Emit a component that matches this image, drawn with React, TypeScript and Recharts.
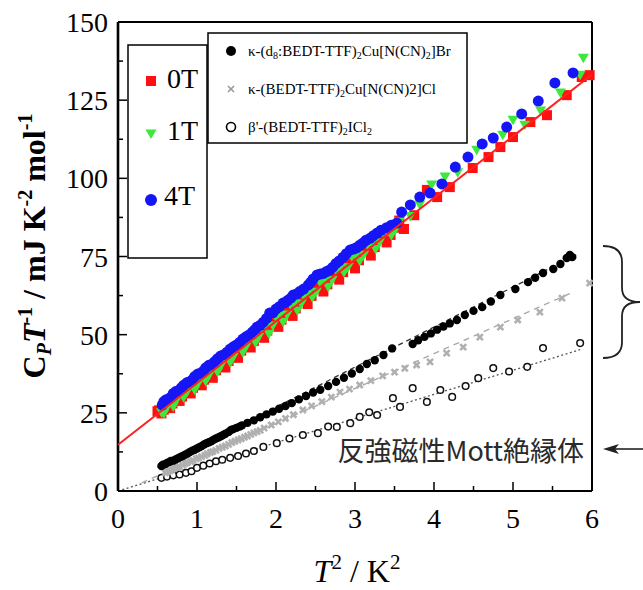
import React from 'react';
import { ComposedChart, Scatter, Line, XAxis, YAxis } from 'recharts';

// C_P T^-1 vs T^2, fields 0T / 1T / 4T for the metal, plus three reference salts
const field0T: [number, number][] = [
  [0.5, 25.5], [0.55, 24.8], [0.6, 27.5], [0.66, 26.5], [0.72, 30.2], [0.78, 28.8],
  [0.85, 32.5], [0.92, 31.2], [0.99, 35.6], [1.06, 33.8], [1.13, 37.8], [1.2, 36.2],
  [1.28, 41.2], [1.36, 39.5], [1.44, 44.8], [1.52, 42.6], [1.6, 47.8], [1.68, 45.9],
  [1.76, 50.6], [1.85, 49.0], [1.94, 54.6], [2.03, 52.5], [2.12, 57.8], [2.21, 56.0],
  [2.3, 61.6], [2.4, 59.8], [2.5, 65.5], [2.6, 63.8], [2.7, 69.2], [2.8, 67.6],
  [2.9, 72.6], [3.0, 71.2], [3.1, 76.8], [3.2, 75.3], [3.3, 80.6], [3.4, 79.5],
  [3.5, 84.2], [3.62, 83.8], [3.75, 88.2], [3.91, 96.3], [4.04, 94.0], [4.2, 97.2],
  [4.49, 103.3], [4.69, 106.8], [4.84, 110.0], [5.0, 113.2], [5.22, 118.0],
  [5.43, 120.2], [5.68, 126.6], [5.87, 132.4], [5.97, 133.0],
  [0.52, 25.8], [0.58, 26.0], [0.63, 28.4], [0.69, 28.0], [0.75, 30.9], [0.81, 30.2],
  [0.88, 33.4], [0.95, 33.0], [1.02, 36.2], [1.09, 35.6], [1.16, 38.9], [1.24, 38.6],
  [1.32, 42.0], [1.4, 41.6], [1.48, 45.3], [1.56, 44.9], [1.64, 48.4], [1.72, 48.0],
  [1.8, 51.6], [1.89, 51.3], [1.98, 55.2], [2.07, 54.8], [2.16, 58.7], [2.25, 58.4],
  [2.35, 62.5], [2.45, 62.4], [2.55, 66.6], [2.65, 66.1], [2.75, 70.3], [2.85, 70.0],
  [2.95, 74.4], [3.05, 73.8], [3.15, 78.2], [3.25, 78.0], [3.35, 82.2], [3.45, 81.9],
  [3.56, 86.5],
];

const field1T: [number, number][] = [
  [0.58, 24.6], [0.64, 27.9], [0.7, 26.9], [0.76, 30.6], [0.83, 29.8], [0.9, 33.4],
  [0.97, 32.2], [1.04, 36.4], [1.11, 35.0], [1.18, 39.2], [1.26, 37.9], [1.34, 42.3],
  [1.42, 41.0], [1.5, 45.6], [1.58, 44.2], [1.66, 48.6], [1.74, 47.3], [1.82, 51.8],
  [1.91, 50.1], [2.0, 55.4], [2.09, 54.0], [2.18, 59.6], [2.27, 57.6], [2.36, 62.0],
  [2.46, 61.8], [2.56, 66.5], [2.66, 65.2], [2.76, 70.5], [2.86, 69.8], [2.96, 74.8],
  [3.06, 73.5], [3.16, 78.4], [3.26, 77.2], [3.36, 82.3], [3.46, 81.6], [3.56, 86.0],
  [3.7, 87.8], [3.82, 91.5], [3.97, 97.9], [4.14, 100.4], [4.3, 101.8], [4.54, 109.0],
  [4.87, 113.8], [5.0, 118.6], [5.15, 117.0], [5.35, 121.5], [5.6, 127.3],
  [5.85, 133.0], [5.89, 138.4],
  [0.55, 25.0], [0.61, 26.2], [0.67, 28.6], [0.73, 28.5], [0.8, 31.2], [0.87, 31.4],
  [0.94, 34.0], [1.01, 34.1], [1.08, 36.9], [1.15, 36.8], [1.22, 39.6], [1.3, 39.8],
  [1.38, 42.9], [1.46, 42.8], [1.54, 46.0], [1.62, 46.0], [1.7, 49.2], [1.78, 49.1],
  [1.87, 52.6], [1.96, 52.8], [2.05, 56.1], [2.14, 56.3], [2.23, 59.9], [2.32, 59.8],
  [2.41, 63.4], [2.51, 63.6], [2.61, 67.4], [2.71, 67.3], [2.81, 71.3], [2.91, 71.4],
  [3.01, 75.2], [3.11, 75.4], [3.21, 79.3], [3.31, 79.4], [3.41, 83.1], [3.51, 83.4],
];

const field4T: [number, number][] = [
  [0.56, 27.5], [0.61, 29.2], [0.67, 30.0], [0.73, 31.8], [0.8, 33.0], [0.87, 34.6],
  [0.94, 35.5], [1.01, 37.4], [1.08, 38.3], [1.15, 40.2], [1.22, 41.3], [1.3, 43.2],
  [1.38, 44.4], [1.46, 46.1], [1.54, 47.5], [1.62, 49.3], [1.7, 50.8], [1.76, 52.4],
  [1.84, 54.0], [1.92, 56.9], [2.0, 58.2], [2.09, 60.1], [2.15, 61.0], [2.22, 62.7],
  [2.3, 63.8], [2.41, 65.9], [2.47, 67.8], [2.52, 69.1], [2.6, 69.6], [2.68, 70.7],
  [2.76, 72.8], [2.85, 74.8], [2.94, 77.1], [3.02, 77.8], [3.1, 79.3], [3.19, 80.8],
  [3.28, 82.5], [3.4, 84.2], [3.53, 85.7], [3.59, 89.2], [3.7, 91.5], [3.82, 94.0],
  [3.95, 95.3], [4.1, 98.2], [4.27, 103.6], [4.43, 106.8], [4.61, 111.0],
  [4.75, 112.9], [4.92, 116.4], [5.11, 120.6], [5.32, 124.7], [5.53, 130.5],
  [5.76, 133.7],
  [0.58, 28.6], [0.64, 29.4], [0.7, 31.2], [0.76, 32.0], [0.83, 33.8], [0.9, 34.9],
  [0.97, 36.6], [1.04, 37.6], [1.11, 39.4], [1.18, 40.4], [1.26, 42.3], [1.34, 43.6],
  [1.42, 45.4], [1.5, 46.7], [1.58, 48.6], [1.66, 49.9], [1.73, 51.5], [1.8, 53.0],
  [1.88, 55.2], [1.96, 57.0], [2.04, 58.9], [2.12, 60.3], [2.19, 61.8], [2.26, 63.0],
  [2.35, 64.6], [2.44, 66.8], [2.56, 69.4], [2.64, 70.2], [2.72, 71.6], [2.8, 73.6],
  [2.89, 75.9], [2.98, 77.4], [3.06, 78.6], [3.14, 80.2], [3.23, 81.6], [3.33, 83.4],
  [3.46, 85.0],
];

const d8Br: [number, number][] = [
  [0.55, 8.0], [0.6, 8.6], [0.65, 9.3], [0.7, 9.7], [0.76, 10.5], [0.82, 11.2],
  [0.88, 12.0], [0.94, 12.9], [1.0, 13.6], [1.06, 14.4], [1.12, 15.3], [1.18, 15.9],
  [1.24, 16.8], [1.3, 17.5], [1.36, 18.3], [1.43, 19.5], [1.5, 20.2], [1.57, 21.0],
  [1.64, 21.8], [1.72, 22.6], [1.8, 23.6], [1.88, 24.5], [1.96, 25.4], [2.04, 26.3],
  [2.12, 27.2], [2.2, 28.1], [2.29, 29.3], [2.38, 30.4], [2.47, 31.5], [2.56, 32.4],
  [2.66, 33.6], [2.76, 34.9], [2.86, 36.2], [2.96, 37.6], [3.06, 39.0], [3.15, 40.6],
  [3.25, 41.8], [3.36, 43.5], [3.47, 45.6], [3.73, 47.0], [3.8, 48.2], [3.88, 49.3],
  [3.96, 50.4], [4.04, 51.6], [4.12, 52.6], [4.2, 53.6], [4.29, 54.7], [4.39, 56.3],
  [4.5, 57.6], [4.61, 58.8], [4.72, 60.6], [4.84, 62.7], [5.03, 64.6], [5.19, 66.8],
  [5.28, 68.2], [5.38, 69.7], [5.51, 71.0], [5.6, 72.6], [5.68, 74.5], [5.72, 75.5],
  [5.75, 74.8],
  [0.57, 8.4], [0.62, 9.0], [0.67, 9.6], [0.73, 10.1], [0.79, 10.9], [0.85, 11.6],
  [0.91, 12.5], [0.97, 13.2], [1.03, 14.0], [1.09, 14.9], [1.15, 15.6], [1.21, 16.4],
  [1.27, 17.1], [1.33, 17.9], [1.4, 18.9], [1.46, 19.8], [1.54, 20.6],
];

const cuCl: [number, number][] = [
  [0.6, 5.8], [0.66, 6.5], [0.72, 7.3], [0.78, 7.8], [0.85, 8.8], [0.92, 9.4],
  [0.99, 10.3], [1.06, 11.0], [1.13, 11.9], [1.2, 12.6], [1.28, 13.6], [1.36, 14.4],
  [1.44, 15.5], [1.52, 16.3], [1.6, 17.2], [1.68, 18.1], [1.76, 19.0], [1.85, 20.1],
  [1.94, 21.1], [2.03, 22.1], [2.12, 23.2], [2.22, 24.4], [2.34, 25.9], [2.45, 27.2],
  [2.58, 28.6], [2.7, 30.0], [2.81, 31.6], [2.93, 32.6], [3.06, 33.9], [3.2, 35.3],
  [3.35, 36.8], [3.5, 38.0], [3.63, 39.2], [3.78, 40.3], [3.95, 41.3], [4.16, 44.1],
  [4.37, 46.0], [4.58, 49.2], [4.84, 52.4], [5.06, 54.7], [5.34, 57.2], [5.62, 61.7],
  [5.97, 66.5],
  [0.63, 6.1], [0.69, 6.9], [0.75, 7.5], [0.82, 8.3], [0.88, 9.1], [0.95, 9.8],
  [1.02, 10.6], [1.1, 11.4], [1.17, 12.3], [1.24, 13.0], [1.32, 14.0], [1.4, 14.9],
  [1.48, 15.9], [1.56, 16.7], [1.64, 17.6], [1.72, 18.6], [1.8, 19.4],
];

const iCl2: [number, number][] = [
  [0.55, 4.2], [0.62, 4.6], [0.7, 5.0], [0.78, 5.3], [0.86, 5.8], [0.93, 6.3],
  [1.0, 7.4], [1.08, 8.1], [1.16, 8.8], [1.24, 9.5], [1.32, 10.0], [1.42, 10.6],
  [1.52, 11.2], [1.62, 12.0], [1.72, 12.8], [1.84, 14.1], [2.01, 15.3], [2.17, 16.8],
  [2.34, 17.9], [2.53, 18.5], [2.66, 20.6], [2.77, 20.5], [2.94, 21.7], [3.06, 23.7],
  [3.18, 25.2], [3.28, 24.3], [3.48, 29.7], [3.57, 26.9], [3.73, 32.9], [3.91, 28.5],
  [4.08, 32.3], [4.23, 30.1], [4.4, 33.6], [4.56, 36.1], [4.75, 39.3], [4.95, 38.2],
  [5.18, 39.7], [5.38, 45.7], [5.85, 47.3],
];

// straight fits, end points only
const fitMetal: [number, number][] = [[0, 14.8], [6, 133.2]];
const fitBr: [number, number][] = [[0.5, 7.6], [5.8, 75.5]];
const fitCl: [number, number][] = [[0.3, 2.6], [5.75, 63.5]];
const fitICl: [number, number][] = [[0, 0], [5.85, 45.2]];

const xTicks = [0, 0.5, 1, 1.5, 2, 2.5, 3, 3.5, 4, 4.5, 5, 5.5, 6];
const yTicks = [0, 12.5, 25, 37.5, 50, 62.5, 75, 87.5, 100, 112.5, 125, 137.5, 150];

const pts = (a: [number, number][]) => a.map(([x, y]) => ({ x, y }));

const serif = "'Liberation Serif', 'Times New Roman', serif";
const TICK_FONT = 28;

const BottomTick = (p: any) => {
  const v = p.payload.value;
  const major = Number.isInteger(v);
  return (
    <g>
      <line x1={p.x} x2={p.x} y1={p.y} y2={p.y - (major ? 9 : 5)} stroke='#000' strokeWidth={1.5} />
      {major && (
        <text x={p.x} y={p.y + 37} textAnchor='middle' fontFamily={serif} fontSize={TICK_FONT} fill='#000'>
          {v}
        </text>
      )}
    </g>
  );
};

const TopTick = (p: any) => {
  const major = Number.isInteger(p.payload.value);
  return <line x1={p.x} x2={p.x} y1={p.y} y2={p.y + (major ? 9 : 5)} stroke='#000' strokeWidth={1.5} />;
};

const LeftTick = (p: any) => {
  const v = p.payload.value;
  const major = v % 25 === 0;
  return (
    <g>
      <line x1={p.x} x2={p.x + (major ? 9 : 5)} y1={p.y} y2={p.y} stroke='#000' strokeWidth={1.5} />
      {major && (
        <text x={p.x - 10} y={p.y} dy='0.36em' textAnchor='end' fontFamily={serif} fontSize={TICK_FONT} fill='#000'>
          {v}
        </text>
      )}
    </g>
  );
};

const RightTick = (p: any) => {
  const major = p.payload.value % 25 === 0;
  return <line x1={p.x} x2={p.x - (major ? 9 : 5)} y1={p.y} y2={p.y} stroke='#000' strokeWidth={1.5} />;
};

const RedSquare = (p: any) => <rect x={p.cx - 5} y={p.cy - 5} width={10} height={10} fill='#ff1010' />;
const GreenTri = (p: any) => (
  <polygon points={`${p.cx - 5.5},${p.cy - 4.5} ${p.cx + 5.5},${p.cy - 4.5} ${p.cx},${p.cy + 5}`} fill='#3ce83c' />
);
const BlueDot = (p: any) => <circle cx={p.cx} cy={p.cy} r={5.5} fill='#1515f5' />;
const BlackDot = (p: any) => <circle cx={p.cx} cy={p.cy} r={4.2} fill='#000' />;
const GrayCross = (p: any) => (
  <g stroke='#b0b0b0' strokeWidth={2.6}>
    <line x1={p.cx - 3} y1={p.cy - 3} x2={p.cx + 3} y2={p.cy + 3} />
    <line x1={p.cx - 3} y1={p.cy + 3} x2={p.cx + 3} y2={p.cy - 3} />
  </g>
);
const OpenDot = (p: any) => <circle cx={p.cx} cy={p.cy} r={3.3} fill='#fff' stroke='#111' strokeWidth={1.5} />;
const NoMark = () => <g />;

const axisLine = { stroke: '#000', strokeWidth: 2 };

export default function App() {
  return (
    <div style={{ position: 'absolute', left: 0, top: 0, width: 643, height: 590, background: '#fff' }}>
      <ComposedChart width={643} height={590} margin={{ top: 12, right: 41, bottom: 69, left: 58 }}>
        <XAxis
          type='number' dataKey='x' domain={[0, 6]} ticks={xTicks} height={30}
          tickLine={false} tickSize={0} tickMargin={0} tick={<BottomTick />} axisLine={axisLine} interval={0}
        />
        <XAxis
          xAxisId='top' orientation='top' type='number' dataKey='x' domain={[0, 6]} ticks={xTicks} height={10}
          tickLine={false} tickSize={0} tickMargin={0} tick={<TopTick />} axisLine={axisLine} interval={0}
        />
        <YAxis
          type='number' dataKey='y' domain={[0, 150]} ticks={yTicks} width={60}
          tickLine={false} tickSize={0} tickMargin={0} tick={<LeftTick />}
          axisLine={{ stroke: '#000', strokeWidth: 2.6 }} interval={0}
        />
        <YAxis
          yAxisId='right' orientation='right' type='number' dataKey='y' domain={[0, 150]} ticks={yTicks} width={10}
          tickLine={false} tickSize={0} tickMargin={0} tick={<RightTick />} axisLine={axisLine} interval={0}
        />

        <Line data={pts(fitICl)} dataKey='y' stroke='#555' strokeWidth={1.3} strokeDasharray='2 2.5' dot={false} isAnimationActive={false} />
        <Line data={pts(fitCl)} dataKey='y' stroke='#aaa' strokeWidth={1.4} strokeDasharray='6 5' dot={false} isAnimationActive={false} />
        <Line data={pts(fitBr)} dataKey='y' stroke='#333' strokeWidth={1.3} strokeDasharray='5 4' dot={false} isAnimationActive={false} />

        <Scatter data={pts(iCl2)} shape={OpenDot} isAnimationActive={false} />
        <Scatter data={pts(cuCl)} shape={GrayCross} isAnimationActive={false} />
        <Scatter data={pts(d8Br)} shape={BlackDot} isAnimationActive={false} />
        <Scatter data={pts(field0T)} shape={RedSquare} isAnimationActive={false} />
        <Scatter data={pts(field1T)} shape={GreenTri} isAnimationActive={false} />
        <Scatter data={pts(field4T)} shape={BlueDot} isAnimationActive={false} />
        {/* fit through the metal data, drawn on top of the markers */}
        <Scatter
          data={pts(fitMetal)} shape={NoMark} line={{ stroke: '#ff2020', strokeWidth: 2 }}
          isAnimationActive={false}
        />
      </ComposedChart>

      <svg width={643} height={590} style={{ position: 'absolute', left: 0, top: 0, pointerEvents: 'none' }}>
        {/* axis titles */}
        <text transform='translate(45,246) rotate(-90)' textAnchor='middle' fontFamily={serif} fontSize={32} fontWeight='bold' fill='#000'>
          C<tspan fontStyle='italic' fontSize={20} dy={6}>P</tspan>
          <tspan fontStyle='italic' dy={-6}>T</tspan>
          <tspan fontSize={20} dy={-13}>-1</tspan>
          <tspan dy={13}> / mJ K</tspan>
          <tspan fontSize={20} dy={-13}>-2</tspan>
          <tspan dy={13}> mol</tspan>
          <tspan fontSize={20} dy={-13}>-1</tspan>
        </text>
        <text x={357} y={582} textAnchor='middle' fontFamily={serif} fontSize={32} fill='#000'>
          <tspan fontStyle='italic'>T</tspan>
          <tspan fontSize={21} dy={-13}>2</tspan>
          <tspan dy={13}> / K</tspan>
          <tspan fontSize={21} dy={-13}>2</tspan>
        </text>

        {/* field legend */}
        <rect x={128} y={45} width={79} height={213} fill='#fff' stroke='#000' strokeWidth={1.5} />
        <rect x={146} y={76} width={10} height={10} fill='#ff1010' />
        <text x={167} y={88} fontFamily={serif} fontSize={28} fill='#000'>0T</text>
        <polygon points='145.5,129.5 156.5,129.5 151,139' fill='#3ce83c' />
        <text x={167} y={140} fontFamily={serif} fontSize={28} fill='#000'>1T</text>
        <circle cx={151} cy={200} r={6} fill='#1515f5' />
        <text x={164} y={205} fontFamily={serif} fontSize={28} fill='#000'>4T</text>

        {/* salts legend */}
        <rect x={208} y={33} width={259} height={110} fill='#fff' stroke='#000' strokeWidth={1.5} />
        <circle cx={231} cy={51} r={5} fill='#000' />
        <text x={248} y={56} fontFamily={serif} fontSize={15} fill='#000'>
          κ-(d<tspan fontSize={10} dy={3}>8</tspan>
          <tspan dy={-3}>:BEDT-TTF)</tspan>
          <tspan fontSize={10} dy={3}>2</tspan>
          <tspan dy={-3}>Cu[N(CN)</tspan>
          <tspan fontSize={10} dy={3}>2</tspan>
          <tspan dy={-3}>]Br</tspan>
        </text>
        <g stroke='#999' strokeWidth={1.6}>
          <line x1={228} y1={86} x2={234} y2={92} />
          <line x1={228} y1={92} x2={234} y2={86} />
        </g>
        <text x={248} y={94} fontFamily={serif} fontSize={15} fill='#000'>
          κ-(BEDT-TTF)<tspan fontSize={10} dy={3}>2</tspan>
          <tspan dy={-3}>Cu[N(CN)2]Cl</tspan>
        </text>
        <circle cx={231} cy={127} r={4.5} fill='#fff' stroke='#000' strokeWidth={1.6} />
        <text x={248} y={132} fontFamily={serif} fontSize={15} fill='#000'>
          β'-(BEDT-TTF)<tspan fontSize={10} dy={3}>2</tspan>
          <tspan dy={-3}>ICl</tspan>
          <tspan fontSize={10} dy={3}>2</tspan>
        </text>

        {/* annotations */}
        <text x={584} y={461} textAnchor='end' fontFamily="'Noto Sans CJK JP', sans-serif" fontSize={27} fill='#2a2a2a'>
          反強磁性Mott絶縁体
        </text>
        <path d='M603,246 Q622,246 622,262 L622,288 Q622,302 640,302 Q622,302 622,316 L622,342 Q622,358 603,358'
          fill='none' stroke='#222' strokeWidth={1.8} />
        <line x1={614} y1={449} x2={643} y2={449} stroke='#222' strokeWidth={1.6} />
        <polygon points='603,449 619,444 615,449 619,454' fill='#222' />
      </svg>
    </div>
  );
}
